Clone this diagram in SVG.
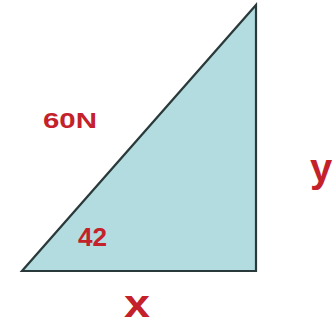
<svg xmlns="http://www.w3.org/2000/svg" width="333" height="327" viewBox="0 0 333 327">
<style>
.lbl{font-family:"Liberation Sans",Arial,sans-serif;font-weight:bold;fill:#c4212b}
</style>
<rect width="333" height="327" fill="#ffffff"/>
<g id="triangle">
<polygon points="22,271 256,271 256,5" fill="#b3dce0" stroke="#2a3a3a" stroke-width="2.2" stroke-linejoin="miter"/>
</g>
<g id="labels">
<text class="lbl" x="43" y="128" font-size="22" textLength="54" lengthAdjust="spacingAndGlyphs">60N</text>
<text class="lbl" x="78" y="246" font-size="26" textLength="29" lengthAdjust="spacingAndGlyphs">42</text>
<text class="lbl" x="124" y="317" font-size="38" textLength="26" lengthAdjust="spacingAndGlyphs">x</text>
<text class="lbl" x="310" y="182" font-size="40">y</text>
</g>
</svg>
